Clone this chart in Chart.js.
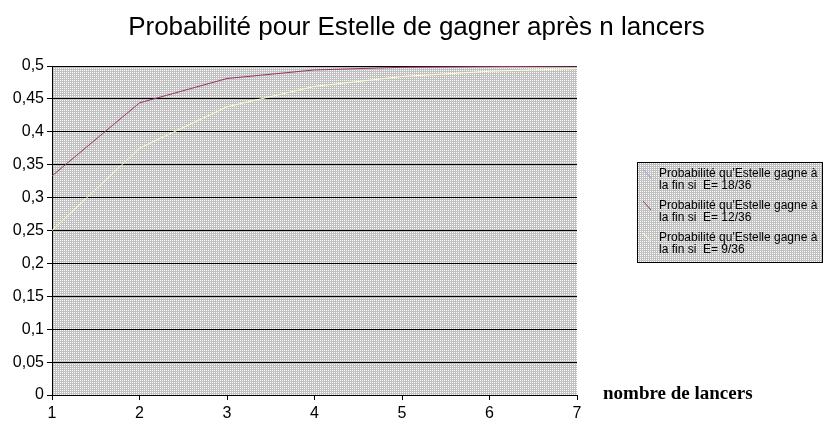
<!DOCTYPE html>
<html>
<head>
<meta charset="utf-8">
<script src="https://cdn.jsdelivr.net/npm/chart.js@4.4.0/dist/chart.umd.min.js"></script>
<style>
  body { margin: 0; background: #fff; }
  #wrap { position: relative; width: 833px; height: 427px; }
  #legend {
    position: absolute; left: 637px; top: 162px; width: 186px; height: 101px;
    border: 1px solid #000; box-sizing: border-box;
    font: 12px Arial, "Liberation Sans", sans-serif; color: #000;
  }
  #legend .item { position: absolute; left: 0; width: 185px; line-height: 12px; }
  #legend svg { position: absolute; left: 4px; top: 1px; }
  #legend .txt { position: absolute; left: 21px; top: 0; white-space: pre; }
</style>
</head>
<body>
<div id="wrap">
  <canvas id="myChart" width="833" height="427"></canvas>
  <div id="legend"></div>
</div>
<script>
// données
const lancers = ["1", "2", "3", "4", "5", "6", "7"];
const proba18 = [0.5, 0.5, 0.5, 0.5, 0.5, 0.5, 0.5];
const proba12 = [0.333, 0.444, 0.481, 0.494, 0.498, 0.499, 0.5];
const proba9 = [0.25, 0.375, 0.438, 0.469, 0.484, 0.492, 0.496];
const seriesLabels = [
  ["Probabilité qu'Estelle gagne à", "la fin si  E= 18/36"],
  ["Probabilité qu'Estelle gagne à", "la fin si  E= 12/36"],
  ["Probabilité qu'Estelle gagne à", "la fin si  E= 9/36"]
];
const colors = ["#9999FF", "#993366", "#FFFFCC"];
const titre = "Probabilité pour Estelle de gagner après n lancers";

const tickFont = { family: "'Liberation Sans Narrow', 'Arial Narrow', Arial, sans-serif", size: 16 };

// fond gris tramé façon Excel
const tile = document.createElement("canvas");
tile.width = 2; tile.height = 2;
const tctx = tile.getContext("2d");
tctx.fillStyle = "#c0c0c0"; tctx.fillRect(0, 0, 2, 2);
tctx.fillStyle = "#ffffff"; tctx.fillRect(0, 0, 1, 1);
document.getElementById("legend").style.backgroundImage = "url(" + tile.toDataURL() + ")";

const decor = {
  id: "decor",
  beforeDraw(chart) {
    const a = chart.chartArea, ctx = chart.ctx;
    ctx.save();
    ctx.fillStyle = ctx.createPattern(tile, "repeat");
    ctx.fillRect(a.left, a.top, a.right - a.left, a.bottom - a.top);
    // titre centré sur toute la largeur
    ctx.fillStyle = "#000";
    ctx.font = "26px Arial, 'Liberation Sans', sans-serif";
    ctx.textAlign = "center";
    ctx.textBaseline = "middle";
    ctx.fillText(titre, chart.width / 2, 28);
    ctx.restore();
  },
  afterDatasetDraw(chart, args) {
    // la série à 0,5 reste cachée sous le cadre du haut
    if (args.index !== 0) return;
    const a = chart.chartArea, ctx = chart.ctx;
    ctx.save();
    ctx.strokeStyle = "#000"; ctx.lineWidth = 1;
    ctx.beginPath();
    ctx.moveTo(a.left, Math.round(a.top) + 0.5);
    ctx.lineTo(a.right, Math.round(a.top) + 0.5);
    ctx.stroke();
    ctx.restore();
  },
  afterDraw(chart) {
    const a = chart.chartArea, ctx = chart.ctx;
    ctx.save();
    ctx.fillStyle = "#000";
    ctx.font = "bold 19px 'Liberation Serif', 'Times New Roman', serif";
    ctx.textBaseline = "middle";
    ctx.fillText("nombre de lancers", a.right + 26, a.bottom - 1);
    ctx.restore();
  }
};

const chart = new Chart(document.getElementById("myChart"), {
  type: "line",
  data: {
    labels: lancers,
    datasets: [
      { label: seriesLabels[0].join(" "), data: proba18, borderColor: colors[0], order: 3 },
      { label: seriesLabels[1].join(" "), data: proba12, borderColor: colors[1], order: 2 },
      { label: seriesLabels[2].join(" "), data: proba9, borderColor: colors[2], order: 1 }
    ]
  },
  options: {
    responsive: false,
    animation: false,
    elements: {
      line: { borderWidth: 1, tension: 0, fill: false },
      point: { radius: 0 }
    },
    layout: { padding: { left: 0, right: 256, top: 66, bottom: 0 } },
    plugins: {
      legend: { display: false },
      tooltip: { enabled: false },
      title: { display: false }
    },
    scales: {
      x: {
        offset: false,
        grid: { drawOnChartArea: false, tickLength: 5, tickColor: "#000", offset: false },
        border: { color: "#000", width: 1 },
        ticks: { color: "#000", padding: 4, maxRotation: 0, font: tickFont },
        afterFit(scale) { scale.height = 32; }
      },
      y: {
        min: 0, max: 0.5,
        grid: { color: "#000", lineWidth: 1, tickLength: 5, tickColor: "#000" },
        border: { color: "#000", width: 1 },
        ticks: {
          stepSize: 0.05, color: "#000", padding: 3, font: tickFont,
          callback: v => Number(v.toFixed(2)).toLocaleString("fr-FR")
        },
        afterFit(scale) { scale.width = 52; }
      }
    }
  },
  plugins: [decor]
});

// légende à la manière d'Excel, texte sur deux lignes
const legend = document.getElementById("legend");
const tops = [4, 36, 68];
chart.data.datasets.forEach((ds, i) => {
  const item = document.createElement("div");
  item.className = "item";
  item.style.top = tops[i] + "px";
  item.innerHTML =
    '<svg width="12" height="12"><line x1="1" y1="1" x2="9" y2="10" stroke="' +
    ds.borderColor + '" stroke-width="1"/></svg>' +
    '<div class="txt">' + seriesLabels[i][0] + "\n" + seriesLabels[i][1] + "</div>";
  legend.appendChild(item);
});
</script>
</body>
</html>
